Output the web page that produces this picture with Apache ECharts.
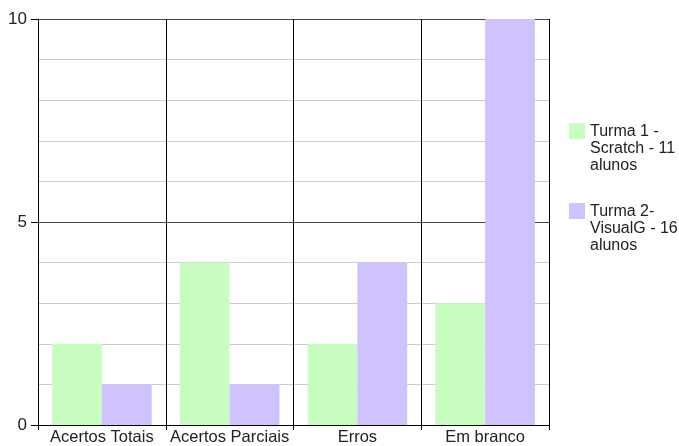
<!DOCTYPE html>
<html>
<head>
<meta charset="utf-8">
<script src="https://cdn.jsdelivr.net/npm/echarts@6/dist/echarts.min.js"></script>
<style>
  html, body { margin: 0; padding: 0; background: #fff; }
  #chart { width: 679px; height: 446px; }
</style>
</head>
<body>
<div id="chart"></div>
<script>
// categorias e valores
var categorias = ['Acertos Totais', 'Acertos Parciais', 'Erros', 'Em branco'];
var turma1 = [2, 4, 2, 3];
var turma2 = [1, 1, 4, 10];
var nomes = ['Turma 1 - Scratch - 11 alunos', 'Turma 2- VisualG - 16 alunos'];
var nomesLegenda = {
    'Turma 1 - Scratch - 11 alunos': 'Turma 1 -\nScratch - 11\nalunos',
    'Turma 2- VisualG - 16 alunos': 'Turma 2-\nVisualG - 16\nalunos'
};
var cores = ['#c8fcc1', '#cfc2fd'];

var myChart = echarts.init(document.getElementById('chart'));
var fonte = '"Liberation Sans", Arial, sans-serif';
// quadrado no topo de uma area alta, para o icone ficar na altura da 1a linha
var iconeLegenda = 'path://M0,0L16,0L16,16L0,16Z M0,51L16,51Z';
var option = {
    animation: false,
    textStyle: { fontFamily: fonte },
    grid: { left: 38, right: 130, top: 19, bottom: 20, containLabel: false },
    legend: {
        orient: 'vertical',
        left: 564,
        top: 118,
        itemWidth: 16,
        itemHeight: 51,
        itemGap: 29,
        icon: iconeLegenda,
        itemStyle: { borderWidth: 0 },
        data: nomes,
        formatter: function (name) { return nomesLegenda[name]; },
        textStyle: {
            fontFamily: fonte,
            fontSize: 16,
            color: '#222',
            lineHeight: 17
        }
    },
    xAxis: {
        type: 'category',
        data: categorias,
        boundaryGap: true,
        axisLine: { show: true, lineStyle: { color: '#000', width: 1 } },
        axisTick: { show: true, length: 5, lineStyle: { color: '#000' } },
        axisLabel: { color: '#222', fontSize: 16.5, margin: 4, fontFamily: fonte, interval: 0 },
        splitLine: { show: true, lineStyle: { color: '#000', width: 1 } }
    },
    yAxis: {
        type: 'value',
        min: 0,
        max: 10,
        interval: 5,
        axisLine: { show: true, lineStyle: { color: '#000', width: 1 } },
        axisTick: { show: true, length: 7, lineStyle: { color: '#000' } },
        axisLabel: { color: '#222', fontSize: 17, margin: 11, fontFamily: fonte },
        splitLine: { show: true, lineStyle: { color: '#444', width: 1 } },
        minorTick: { show: false, splitNumber: 5 },
        minorSplitLine: { show: true, lineStyle: { color: '#cccccc', width: 1 } }
    },
    series: [
        {
            name: nomes[0],
            type: 'bar',
            data: turma1,
            barGap: '0%',
            barCategoryGap: '22%',
            itemStyle: { color: cores[0] }
        },
        {
            name: nomes[1],
            type: 'bar',
            data: turma2,
            barGap: '0%',
            barCategoryGap: '22%',
            itemStyle: { color: cores[1] }
        }
    ]
};
myChart.setOption(option);
</script>
</body>
</html>
